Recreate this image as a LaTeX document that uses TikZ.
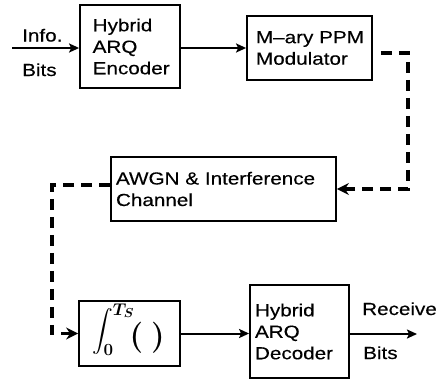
\RequirePackage{fix-cm}
\documentclass[tikz,border=0pt]{standalone}
\usepackage{exscale}
\usepackage[no-math]{fontspec}
\setmainfont{Liberation Sans}[FakeStretch=1.18, FakeBold=0.3]
\usetikzlibrary{arrows.meta}
\DeclareMathSizes{20}{20}{17}{13}
\newcommand{\lbltxt}{\fontsize{17.5}{21.5}\selectfont}

\begin{document}
\begin{tikzpicture}[x=1pt, y=-1pt,
    blk/.style={draw, line width=1.8pt, align=left, font=\lbltxt, inner ysep=0pt},
    arr/.style={line width=2pt, -{Stealth[length=10pt, width=9pt, inset=2pt]}},
    dsh/.style={line width=3.8pt, dash pattern=on 11pt off 7pt},
    dsharr/.style={dsh, -{Stealth[length=12pt, width=12pt, inset=4pt]}},
    lbl/.style={font=\lbltxt, anchor=base west, inner sep=0pt},
    mth/.style={anchor=base west, inner sep=0pt}]
  \useasboundingbox (0,0) rectangle (441,381);

  % transmitter
  \node[blk, inner xsep=12.7pt, text width=74.6pt, minimum height=83pt] (enc) at (130,46.5) {Hybrid\\ARQ\\Encoder};
  \node[blk, inner xsep=7pt, text width=111pt, minimum height=64pt] (mod) at (309.5,48) {\hspace{2pt}M–ary PPM\\\hspace{2pt}Modulator};

  % channel
  \node[blk, inner xsep=5pt, text width=215pt, minimum height=64pt] (awgn) at (223.5,189) {AWGN \& Interference\\Channel};

  % receiver: integrate-and-dump over one symbol
  \node[draw, line width=1.8pt, minimum width=101pt, minimum height=65pt, inner sep=0pt] (intg) at (129.5,333.5) {};
  \node[mth, font=\boldmath\fontsize{20}{24}\selectfont] (intsym) at (92,336.5) {$\displaystyle\int_{0}^{T_S}$};
  \node[mth, font=\boldmath\fontsize{31}{31}\selectfont] (brk) at (129.5,345.5) {$(\hspace{8pt})$};
  \node[blk, inner xsep=5pt, text width=89pt, minimum height=93pt] (dec) at (299.5,331.5) {Hybrid\\ARQ\\Decoder};

  % input / output labels
  \coordinate (src) at (12,48);
  \coordinate (snk) at (417,334);
  \node[lbl] (info) at (22,41.5) {Info.};
  \node[lbl] (ibits) at (22,76) {Bits};
  \node[lbl] (recv) at (362,315) {Receive};
  \node[lbl] (obits) at (363,359) {Bits};

  % turning points of the dashed links
  \coordinate (rc) at (408,0);
  \coordinate (lc) at (52,0);

  % connectors
  \draw[arr] (src) -- (src -| enc.west);
  \draw[arr] (mod.west -| enc.east) -- (mod.west);
  \draw[dsharr] ([xshift=8pt, yshift=-5pt]mod.east) -| (rc |- awgn.east) -- (awgn.east);
  \draw[dsharr] ([yshift=4pt]awgn.west) -| (lc |- intg.west) -- (intg.west);
  \draw[arr] (intg.east) -- (intg.east -| dec.west);
  \draw[arr] (dec.east |- snk) -- (snk);
\end{tikzpicture}
\end{document}
